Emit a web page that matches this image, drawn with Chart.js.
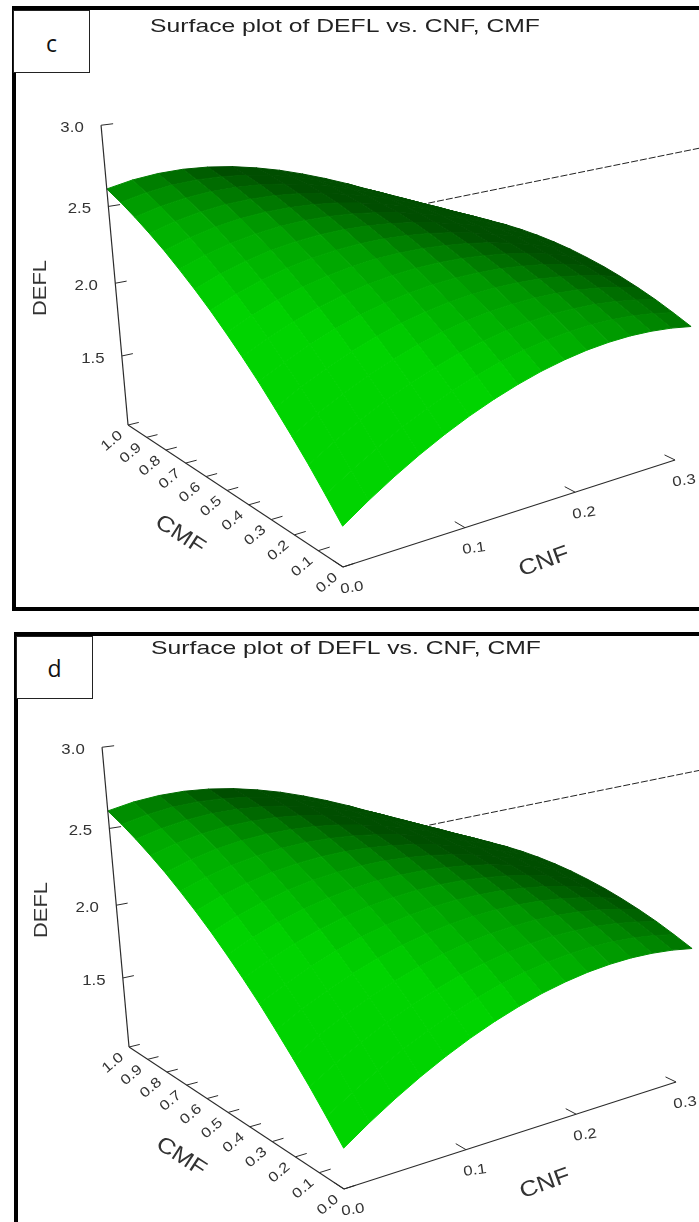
<!DOCTYPE html>
<html>
<head>
<meta charset="utf-8">
<script src="https://cdn.jsdelivr.net/npm/chart.js@4"></script>
<style>
  html, body { margin: 0; padding: 0; background: #fff; }
  body { position: relative; width: 699px; height: 1222px; overflow: hidden; }
  canvas { position: absolute; }
  .frame { position: absolute; border: 4px solid #000; border-right: 0; box-sizing: border-box; }
  .tag { position: absolute; box-sizing: border-box; width: 77px; height: 63px; border: 1px solid #222; background: #fff;
         font: 23px "Open Sans", sans-serif; color: #111; text-align: center; line-height: 65px; }
</style>
</head>
<body>
<div class="frame" style="left:12px;top:6px;width:687px;height:605px"></div>
<div class="frame" style="left:14px;top:632px;width:685px;height:600px"></div>
<div class="tag" style="left:13px;top:10px">c</div>
<div class="tag" style="left:16px;top:636px;line-height:62px">d</div>
<canvas id="plotC" width="699" height="612" style="left:0;top:0"></canvas>
<canvas id="plotD" width="699" height="600" style="left:1px;top:622px"></canvas>

<script>
const titleText = 'Surface plot of DEFL vs. CNF, CMF';
const cnfValues = [0, 0.02, 0.04, 0.06, 0.08, 0.10, 0.12, 0.14, 0.16, 0.18, 0.20, 0.22, 0.24, 0.26, 0.28, 0.30];
const cmfValues = [0, 0.067, 0.133, 0.2, 0.267, 0.333, 0.4, 0.467, 0.533, 0.6, 0.667, 0.733, 0.8, 0.867, 0.933, 1.0];

// one row per CNF value, one column per CMF value
const deflValues = [
  [1.270, 1.404, 1.532, 1.653, 1.768, 1.877, 1.979, 2.075, 2.164, 2.247, 2.323, 2.394, 2.457, 2.515, 2.566, 2.610],
  [1.385, 1.513, 1.635, 1.750, 1.859, 1.962, 2.058, 2.148, 2.232, 2.310, 2.381, 2.446, 2.504, 2.556, 2.602, 2.642],
  [1.490, 1.611, 1.727, 1.836, 1.939, 2.035, 2.126, 2.210, 2.288, 2.360, 2.425, 2.485, 2.537, 2.584, 2.625, 2.659],
  [1.585, 1.700, 1.808, 1.911, 2.008, 2.098, 2.182, 2.260, 2.332, 2.398, 2.457, 2.511, 2.558, 2.599, 2.634, 2.663],
  [1.670, 1.778, 1.880, 1.976, 2.066, 2.150, 2.227, 2.299, 2.364, 2.424, 2.477, 2.525, 2.566, 2.601, 2.631, 2.654],
  [1.745, 1.846, 1.941, 2.030, 2.114, 2.191, 2.262, 2.327, 2.386, 2.440, 2.487, 2.528, 2.564, 2.593, 2.616, 2.634],
  [1.810, 1.904, 1.993, 2.075, 2.152, 2.222, 2.287, 2.346, 2.398, 2.445, 2.486, 2.522, 2.551, 2.574, 2.592, 2.603],
  [1.865, 1.953, 2.034, 2.110, 2.180, 2.244, 2.302, 2.354, 2.401, 2.441, 2.476, 2.506, 2.529, 2.546, 2.558, 2.564],
  [1.911, 1.991, 2.066, 2.135, 2.198, 2.256, 2.308, 2.354, 2.394, 2.429, 2.458, 2.481, 2.498, 2.510, 2.516, 2.516],
  [1.946, 2.020, 2.088, 2.151, 2.208, 2.259, 2.305, 2.345, 2.380, 2.408, 2.432, 2.449, 2.461, 2.467, 2.467, 2.462],
  [1.972, 2.039, 2.102, 2.158, 2.209, 2.255, 2.294, 2.329, 2.357, 2.381, 2.398, 2.410, 2.417, 2.418, 2.413, 2.403],
  [1.987, 2.049, 2.105, 2.156, 2.202, 2.241, 2.276, 2.305, 2.328, 2.346, 2.358, 2.365, 2.367, 2.363, 2.353, 2.338],
  [1.993, 2.049, 2.100, 2.146, 2.186, 2.221, 2.250, 2.274, 2.292, 2.306, 2.313, 2.316, 2.313, 2.304, 2.290, 2.271],
  [1.988, 2.040, 2.086, 2.127, 2.162, 2.192, 2.217, 2.237, 2.251, 2.260, 2.263, 2.262, 2.254, 2.242, 2.224, 2.201],
  [1.974, 2.021, 2.063, 2.100, 2.131, 2.157, 2.178, 2.194, 2.204, 2.210, 2.209, 2.204, 2.194, 2.178, 2.157, 2.131],
  [1.950, 1.993, 2.032, 2.065, 2.093, 2.116, 2.133, 2.146, 2.153, 2.155, 2.152, 2.144, 2.131, 2.112, 2.089, 2.060]
];

const cnfTicks = [0.0, 0.1, 0.2, 0.3];
const cmfTicks = [0.0, 0.1, 0.2, 0.3, 0.4, 0.5, 0.6, 0.7, 0.8, 0.9, 1.0];
const deflTicks = [1.5, 2.0, 2.5, 3.0];

// hidden back line, in the plane of the plot
const backLineX = [340, 720];
const backLineY = [221, 144];

const CNF_MAX = 0.3, DEFL_MIN = 1, DEFL_RANGE = 2;

// perspective view of (CNF, CMF, DEFL) onto the flat x/y scales
function project(cnf, cmf, defl) {
  const a = cnf / CNF_MAX, b = cmf, c = (defl - DEFL_MIN) / DEFL_RANGE;
  const w = 1 + 0.162 * a + 0.17 * b - 0.12 * c;
  return {
    x: (343 + 441.4 * a - 193.2 * b - 43.7 * c) / w,
    y: (567 - 32.5 * a - 69.75 * b - 365.75 * c) / w
  };
}

// shade follows the slope of the facet, steeper towards the viewer is brighter
function facetColor(i, j) {
  const z = deflValues;
  const dzA = ((z[i + 1][j] - z[i][j]) + (z[i + 1][j + 1] - z[i][j + 1])) * 7.5;
  const dzB = ((z[i][j + 1] - z[i][j]) + (z[i + 1][j + 1] - z[i + 1][j])) * 7.5;
  const lit = dzB < 0.8 ? 130 * dzB : 104 + 60 * (dzB - 0.8);
  const g = Math.round(Math.min(212, Math.max(78, 45 + 30 * dzA + lit)));
  return `rgb(0, ${g}, 0)`;
}

function lineSet(points, color, width, dash) {
  return { data: points, showLine: true, pointRadius: 0, borderColor: color, borderWidth: width, borderDash: dash || [], fill: false };
}

function buildDatasets() {
  const sets = [];
  const axisColor = '#2b2b2b';
  const base = 1.0;

  // axes first so they sit over the surface in draw order
  sets.push(lineSet([project(0, 0, base), project(CNF_MAX, 0, base)], axisColor, 1.1));
  sets.push(lineSet([project(0, 1, base), project(0, 0, base)], axisColor, 1.1));
  sets.push(lineSet([project(0, 1, base), project(0, 1, 3)], axisColor, 1.2));
  cnfTicks.forEach(t => sets.push(lineSet([project(t, 0, base), project(t, 0.04, base)], axisColor, 1)));
  cmfTicks.forEach(t => sets.push(lineSet([project(0, t, base), project(0.009, t, base)], axisColor, 1)));
  deflTicks.forEach(t => sets.push(lineSet([project(0, 1, t), project(0.009, 1, t)], axisColor, 1)));

  // facets, nearest first because chart.js paints the first dataset last
  const cells = [];
  for (let i = 0; i < cnfValues.length - 1; i++) {
    for (let j = 0; j < cmfValues.length - 1; j++) cells.push([i, j]);
  }
  cells.sort((p, q) => (p[0] + p[1]) - (q[0] + q[1]));
  cells.forEach(([i, j]) => {
    const color = facetColor(i, j);
    const pts = [
      project(cnfValues[i], cmfValues[j], deflValues[i][j]),
      project(cnfValues[i + 1], cmfValues[j], deflValues[i + 1][j]),
      project(cnfValues[i + 1], cmfValues[j + 1], deflValues[i + 1][j + 1]),
      project(cnfValues[i], cmfValues[j + 1], deflValues[i][j + 1]),
      project(cnfValues[i], cmfValues[j], deflValues[i][j])
    ];
    sets.push({ data: pts, showLine: true, pointRadius: 0, borderColor: color, borderWidth: 1, backgroundColor: color, fill: 'shape' });
  });

  sets.push(lineSet(backLineX.map((x, k) => ({ x: x, y: backLineY[k] })), '#222', 1, [7, 2]));
  return sets;
}

// all the tilted labels, placed through the chart's scales
const axisText = {
  id: 'axisText',
  afterDraw(chart) {
    const ctx = chart.ctx;
    const sx = chart.scales.x, sy = chart.scales.y;
    const put = (text, pos, angle, font, stretch, color) => {
      ctx.save();
      ctx.translate(sx.getPixelForValue(pos.x), sy.getPixelForValue(pos.y));
      ctx.rotate(angle * Math.PI / 180);
      ctx.scale(stretch, 1);
      ctx.font = font;
      ctx.fillStyle = color || '#333';
      ctx.textAlign = 'center';
      ctx.textBaseline = 'middle';
      ctx.fillText(text, 0, 0);
      ctx.restore();
    };
    const shift = (p, dx, dy) => ({ x: p.x + dx, y: p.y + dy });
    const tickFont = '14px "Liberation Sans"';

    put(titleText, { x: 345, y: 27 }, 0, '19px "Liberation Sans"', 1.3, '#222');
    deflTicks.forEach(t => put(t.toFixed(1), shift(project(0, 1, t), -29, 3), 0, tickFont, 1.2));
    cmfTicks.forEach(t => put(t.toFixed(1), shift(project(0, t, 1), -16, 16), -40, tickFont, 1.2));
    cnfTicks.forEach(t => put(t.toFixed(1), shift(project(t, 0, 1), 9, 21), -8, tickFont, 1.2));
    put('DEFL', { x: 41, y: 288 }, -90, '19px "Liberation Sans"', 1.15);
    put('CMF', { x: 180, y: 535 }, 33, '22px "Liberation Sans"', 1.15);
    put('CNF', { x: 544, y: 562 }, -20, '22px "Liberation Sans"', 1.15);
  }
};

function drawPlot(id, height) {
  new Chart(document.getElementById(id), {
    type: 'scatter',
    data: { datasets: buildDatasets() },
    options: {
      responsive: false,
      animation: false,
      events: [],
      layout: { padding: 0 },
      plugins: { legend: { display: false }, tooltip: { enabled: false } },
      scales: {
        x: { type: 'linear', display: false, min: 0, max: 699 },
        y: { type: 'linear', display: false, min: 0, max: height, reverse: true }
      }
    },
    plugins: [axisText]
  });
}

drawPlot('plotC', 612);
drawPlot('plotD', 600);
</script>
</body>
</html>
